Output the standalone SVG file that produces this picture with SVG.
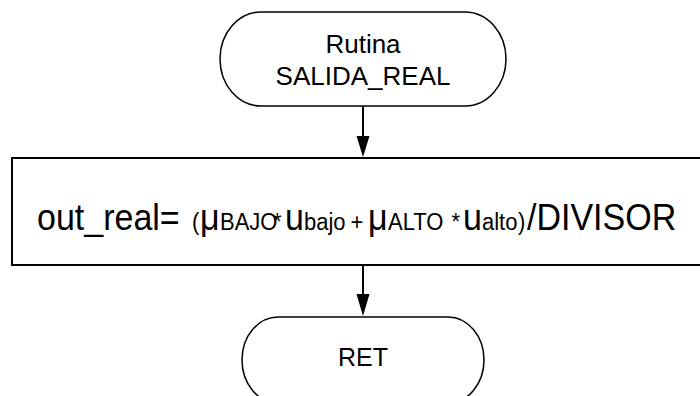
<svg xmlns="http://www.w3.org/2000/svg" width="700" height="396" viewBox="0 0 700 396">
<defs>
<style>
.shape{fill:#fff;stroke:#000;stroke-width:1.5}
.box{fill:#fff;stroke:#000;stroke-width:2}
.t{font-family:"Liberation Sans",Arial,sans-serif;fill:#000}
.big{font-size:34px}
.sm{font-size:22px}
.line{stroke:#000;stroke-width:2;fill:none}
.head{fill:#000}
</style>
</defs>
<rect width="700" height="396" fill="#fff"/>
<g id="start">
<path class="shape" d="M261,12 H465 A41,47 0 0 1 465,106 H261 A41,47 0 0 1 261,12 Z"/>
<text class="t" x="363" y="53" font-size="26" text-anchor="middle">Rutina</text>
<text class="t" x="363" y="85" font-size="26" text-anchor="middle">SALIDA_REAL</text>
</g>
<g id="calc">
<rect class="box" x="12" y="158" width="700" height="107"/>
<text class="t" y="230" transform="translate(0,230) scale(1,1.1) translate(0,-230)"><tspan class="big" x="37">out_real=</tspan><tspan class="sm" x="192">(</tspan><tspan class="big" x="200">μ</tspan><tspan class="sm" x="220">BAJO</tspan><tspan class="sm" x="273">*</tspan><tspan class="big" x="285">u</tspan><tspan class="sm" x="304">bajo</tspan><tspan class="sm" x="350.5">+</tspan><tspan class="big" x="368">μ</tspan><tspan class="sm" x="388">ALTO</tspan><tspan class="sm" x="451.5">*</tspan><tspan class="big" x="463">u</tspan><tspan class="sm" x="482">alto</tspan><tspan class="sm" x="518">)</tspan><tspan class="big" x="527">/DIVISOR</tspan></text>
</g>
<g id="ret">
<path class="shape" d="M278,317 H448 A36,43 0 0 1 448,403 H278 A36,43 0 0 1 278,317 Z"/>
<text class="t" x="363" y="366" font-size="25" text-anchor="middle">RET</text>
</g>
<g id="connectors">
<line class="line" x1="363" y1="106" x2="363" y2="138"/>
<polygon class="head" points="356.5,136 369.5,136 363,157"/>
<line class="line" x1="363" y1="265" x2="363" y2="296"/>
<polygon class="head" points="356.5,294 369.5,294 363,316"/>
</g>
</svg>
